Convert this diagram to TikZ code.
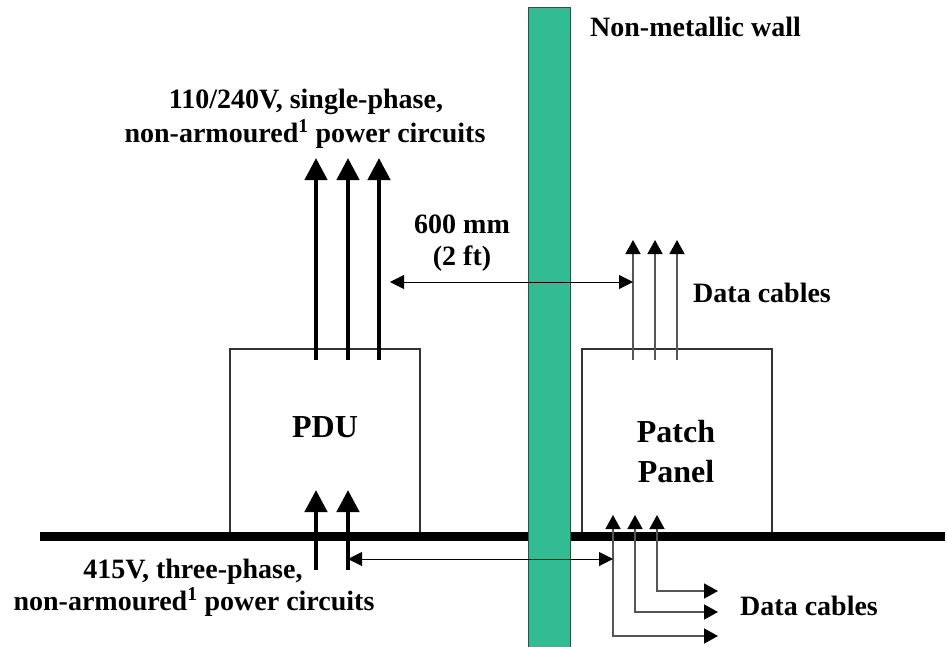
\documentclass[tikz,border=0pt]{standalone}
\usepackage{fontspec}
\setmainfont{Liberation Serif}
\usetikzlibrary{arrows.meta}
\definecolor{wallgreen}{HTML}{33BB94}
\definecolor{walledge}{HTML}{1E5A48}
\definecolor{cblgray}{HTML}{555555}
\definecolor{boxgray}{HTML}{333333}

\tikzset{
  lbl/.style={inner sep=0pt,anchor=base},
  unit/.style={draw=boxgray,line width=1.2pt,fill=white,inner sep=0pt},
  pwr/.style={line width=4.5pt,-{Triangle[length=22pt,width=22pt]}},
  dat/.style={cblgray,line width=1.5pt,-{Triangle[length=14pt,width=15pt,color=black]}},
  dim/.style={line width=1pt,{Triangle[length=14pt,width=14pt]}-{Triangle[length=14pt,width=14pt]}},
}

\begin{document}
\begin{tikzpicture}[x=1pt,y=-1pt,font=\bfseries\fontsize{28}{33}\selectfont]

  \useasboundingbox (0,0) rectangle (947,646);

  \def\yF{536.5} % floor line
  \def\yT{360}   % top ends of the cables inside the boxes

  % boxes
  \node[unit,minimum width=190pt,minimum height=188pt] (pdu) at (325,443) {};
  \node[unit,minimum width=190pt,minimum height=188pt] (patch) at (677,443) {};
  \node[lbl,font=\bfseries\fontsize{32}{40}\selectfont] (pdu-lbl) at (325,437) {PDU};
  \node[lbl,font=\bfseries\fontsize{32}{40}\selectfont] (patch-lbl1) at (676,442) {Patch};
  \node[lbl,font=\bfseries\fontsize{32}{40}\selectfont] (patch-lbl2) at (676,482) {Panel};

  % floor and wall
  \draw[line width=9pt] (40,\yF) -- (945,\yF);
  \fill[wallgreen,draw=walledge,line width=0.8pt] (528,7) rectangle (570,650);
  \node[lbl,anchor=base west] (wall-lbl) at (590,36) {Non-metallic wall};

  % single-phase power circuits out of the PDU
  \foreach \x [count=\i] in {316,348,379} {
    \coordinate (ac\i-s) at (\x,\yT);
    \coordinate (ac\i-e) at (\x,158);
    \draw[pwr] (ac\i-s) -- (ac\i-e);
  }
  \node[lbl] (ac-lbl1) at (306,108) {110/240V, single-phase,};
  \node[lbl] (ac-lbl2) at (305,142) {non-armoured\textsuperscript{1} power circuits};

  % three-phase feed into the PDU
  \foreach \x [count=\i] in {316,348} {
    \coordinate (tp\i-s) at (\x,570);
    \coordinate (tp\i-e) at (\x,490);
    \draw[pwr] (tp\i-s) -- (tp\i-e);
  }
  \node[lbl] (tp-lbl1) at (193,578) {415V, three-phase,};
  \node[lbl] (tp-lbl2) at (194,610) {non-armoured\textsuperscript{1} power circuits};

  % data cables out of the patch panel (top)
  \foreach \x [count=\i] in {633,655,677} {
    \coordinate (dt\i-s) at (\x,\yT);
    \coordinate (dt\i-e) at (\x,240);
    \draw[dat] (dt\i-s) -- (dt\i-e);
  }
  \node[lbl,anchor=base west] (dt-lbl) at (693,302) {Data cables};

  % data cables under the floor (bottom)
  \foreach \x/\y [count=\i] in {613/636,635/612,657/591} {
    \coordinate (db\i-t) at (\x,515);
    \coordinate (db\i-c) at (\x,\y);
    \coordinate (db\i-e) at (718,\y);
    \draw[dat,{Triangle[length=14pt,width=15pt,color=black]}-{Triangle[length=14pt,width=15pt,color=black]}]
          (db\i-t) -- (db\i-c) -- (db\i-e);
  }
  \node[lbl,anchor=base west] (db-lbl) at (740,615) {Data cables};

  % separation distances
  \coordinate (gap-a) at (390,282);
  \coordinate (gap-b) at (dt1-s |- gap-a);
  \draw[dim] (gap-a) -- (gap-b);
  \node[lbl] (gap-lbl1) at (462,233) {600 mm};
  \node[lbl] (gap-lbl2) at (462,265) {(2 ft)};

  \coordinate (sep-a) at (tp2-s |- 0,559);
  \coordinate (sep-b) at (db1-t |- sep-a);
  \draw[dim] (sep-a) -- (sep-b);

\end{tikzpicture}
\end{document}
